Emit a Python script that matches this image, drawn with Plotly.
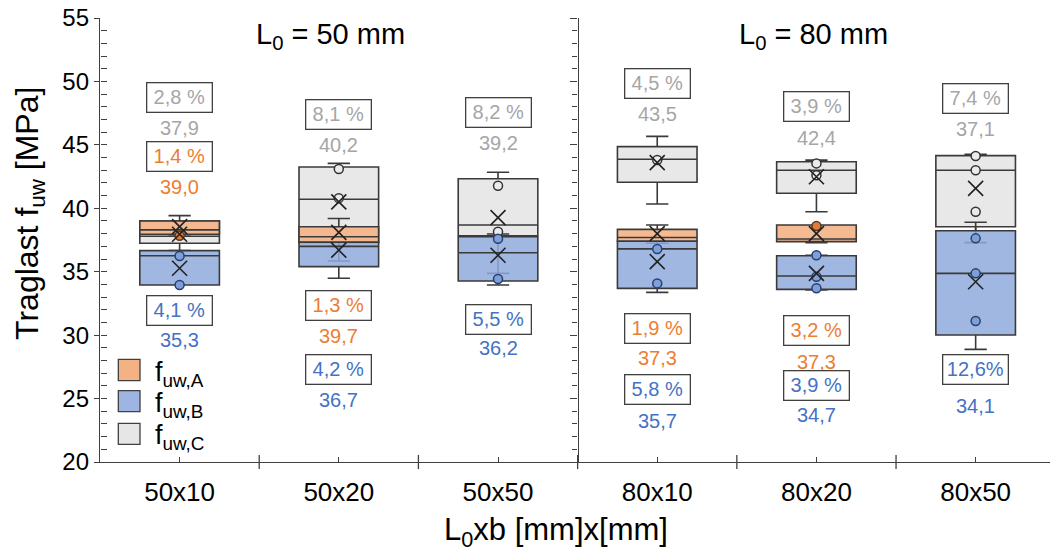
import plotly.graph_objects as go

categories = ["50x10", "50x20", "50x50", "80x10", "80x20", "80x50"]
positions = [0, 1, 2, 3, 4, 5]

# Series A (f_uw,A) - orange
a_low = [37.80, 35.84, None, 37.24, 37.29, None]
a_q1 = [37.95, 37.32, None, 37.40, 37.37, None]
a_med = [38.30, 37.76, None, 37.70, 37.58, None]
a_q3 = [39.00, 38.55, None, 38.34, 38.68, None]
a_up = [39.42, 39.20, None, 38.68, 38.68, None]
a_mean = [38.55, 38.10, None, 38.00, 38.00, None]
a_points = [[37.84], [], [], [], [38.60], []]
a_cv = ["1,4 %", "1,3 %", None, "1,9 %", "3,2 %", None]
a_mean_txt = ["39,0", "39,7", None, "37,3", "37,3", None]

# Series B (f_uw,B) - blue
b_low = [33.95, 34.48, 33.95, 33.37, 33.56, 28.88]
b_q1 = [33.95, 35.40, 34.27, 33.69, 33.61, 30.01]
b_med = [36.26, 37.00, 36.50, 36.80, 34.66, 34.87]
b_q3 = [36.66, 37.32, 37.76, 37.40, 36.26, 38.23]
b_up = [36.66, 37.32, 37.97, 37.40, 36.30, 38.90]
b_mean = [35.27, 36.70, 36.30, 35.79, 34.87, 34.21]
b_points = [[36.24, 33.95], [], [37.60, 34.42], [36.79, 34.08], [36.30, 34.60, 33.69], [37.63, 34.87, 31.11]]
b_cv = ["4,1 %", "4,2 %", "5,5 %", "5,8 %", "3,9 %", "12,6%"]
b_mean_txt = ["35,3", "36,7", "36,2", "35,7", "34,7", "34,1"]

# Series C (f_uw,C) - grey
c_low = [36.66, 37.00, 34.87, 40.34, 39.73, 37.29]
c_q1 = [37.24, 37.30, 37.84, 42.05, 41.18, 38.55]
c_med = [37.80, 40.71, 38.68, 43.86, 43.00, 43.00]
c_q3 = [39.00, 43.25, 42.33, 44.86, 43.67, 44.15]
c_up = [39.00, 43.54, 42.84, 45.67, 43.80, 44.25]
c_mean = [37.95, 40.50, 39.26, 43.60, 42.49, 41.57]
c_points = [[], [43.10, 40.80], [41.78, 38.15], [43.80], [43.54, 42.60], [44.12, 43.00, 39.73]]
c_cv = ["2,8 %", "8,1 %", "8,2 %", "4,5 %", "3,9 %", "7,4 %"]
c_mean_txt = ["37,9", "40,2", "39,2", "43,5", "42,4", "37,1"]

# label placement (layout, y in axis units)
a_cv_y = [44.12, 32.30, None, 30.56, 30.37, None]
a_txt_y = [41.70, 29.93, None, 28.22, 27.91, None]
b_cv_y = [31.98, 27.33, 31.27, 25.68, 26.07, 27.28]
b_txt_y = [29.62, 24.89, 28.99, 23.23, 23.70, 24.41]
c_cv_y = [48.73, 47.39, 47.55, 49.80, 47.99, 48.64]
c_txt_y = [46.33, 44.99, 45.17, 47.43, 45.52, 46.23]

series = [
    dict(name="C", low=c_low, q1=c_q1, med=c_med, q3=c_q3, up=c_up, mean=c_mean, pts=c_points,
         fill="rgba(231,230,230,0.92)", ptfill="rgba(235,235,235,1)", ptline="#333333",
         txtcol="#A6A6A6", cv=c_cv, mt=c_mean_txt, cvy=c_cv_y, mty=c_txt_y),
    dict(name="A", low=a_low, q1=a_q1, med=a_med, q3=a_q3, up=a_up, mean=a_mean, pts=a_points,
         fill="rgba(244,177,131,0.88)", ptfill="#E07B3A", ptline="#5A3A20",
         txtcol="#ED7D31", cv=a_cv, mt=a_mean_txt, cvy=a_cv_y, mty=a_txt_y),
    dict(name="B", low=b_low, q1=b_q1, med=b_med, q3=b_q3, up=b_up, mean=b_mean, pts=b_points,
         fill="rgba(143,170,220,0.85)", ptfill="#7E9FD9", ptline="#27406E",
         txtcol="#4472C4", cv=b_cv, mt=b_mean_txt, cvy=b_cv_y, mty=b_txt_y),
]

FONT = "Liberation Sans"
fig = go.Figure()
LINE = "#3A3A3A"

for s in series:
    idx = [i for i in positions if s["q1"][i] is not None]
    fig.add_trace(go.Box(
        x=[positions[i] for i in idx],
        q1=[s["q1"][i] for i in idx],
        median=[s["med"][i] for i in idx],
        q3=[s["q3"][i] for i in idx],
        lowerfence=[s["low"][i] for i in idx],
        upperfence=[s["up"][i] for i in idx],
        width=0.5, whiskerwidth=0.28, boxpoints=False,
        fillcolor=s["fill"], line=dict(color=LINE, width=1.6),
        showlegend=False, hoverinfo="skip",
    ))

for s in series:
    px, py = [], []
    for i in positions:
        for v in s["pts"][i]:
            px.append(positions[i]); py.append(v)
    fig.add_trace(go.Scatter(
        x=px, y=py, mode="markers", showlegend=False, hoverinfo="skip",
        marker=dict(symbol="circle", size=9, color=s["ptfill"], line=dict(color=s["ptline"], width=1.5)),
    ))

for s in series:
    idx = [i for i in positions if s["mean"][i] is not None]
    fig.add_trace(go.Scatter(
        x=[positions[i] for i in idx], y=[s["mean"][i] for i in idx],
        mode="markers", showlegend=False, hoverinfo="skip",
        marker=dict(symbol="x-thin", size=15, line=dict(color="#222222", width=1.6)),
    ))

# empty traces so that the extra tick axes get drawn
fig.add_trace(go.Scatter(x=[], y=[], yaxis="y2", showlegend=False, hoverinfo="skip"))
fig.add_trace(go.Scatter(x=[], y=[], yaxis="y3", showlegend=False, hoverinfo="skip"))

ann = []
for s in series:
    for i in positions:
        if s["cv"][i] is None:
            continue
        ann.append(dict(x=positions[i], y=s["cvy"][i], xref="x", yref="y", text=s["cv"][i],
                        showarrow=False, font=dict(size=20, color=s["txtcol"], family=FONT),
                        bordercolor="#404040", borderwidth=1.3, borderpad=2, bgcolor="white",
                        width=60, height=24))
        ann.append(dict(x=positions[i], y=s["mty"][i], xref="x", yref="y", text=s["mt"][i],
                        showarrow=False, font=dict(size=20, color=s["txtcol"], family=FONT)))

# headers
ann.append(dict(x=0.95, y=53.6, xref="x", yref="y", text="L<sub>0</sub> = 50 mm", showarrow=False,
                font=dict(size=29, color="black", family=FONT)))
ann.append(dict(x=3.98, y=53.6, xref="x", yref="y", text="L<sub>0</sub> = 80 mm", showarrow=False,
                font=dict(size=29, color="black", family=FONT)))
# axis titles
ann.append(dict(x=-0.0737, y=0.561, xref="paper", yref="paper", text="Traglast f<sub>uw</sub> [MPa]",
                textangle=-90, xanchor="center", yanchor="middle", showarrow=False,
                font=dict(size=32, color="black", family=FONT)))
ann.append(dict(x=0.48, y=-0.1577, xref="paper", yref="paper", text="L<sub>0</sub>xb [mm]x[mm]",
                xanchor="center", yanchor="middle", showarrow=False,
                font=dict(size=31, color="black", family=FONT)))

# manual legend
legend_items = [("f<sub>uw,A</sub>", "rgba(244,177,131,1)", 0.1831, 0.2313),
                ("f<sub>uw,B</sub>", "rgba(157,181,224,1)", 0.1133, 0.1606),
                ("f<sub>uw,C</sub>", "rgba(231,230,230,1)", 0.0399, 0.0872)]
shapes = []
for txt, col, y0, y1 in legend_items:
    shapes.append(dict(type="rect", xref="paper", yref="paper", x0=0.0193, x1=0.0421, y0=y0, y1=y1,
                       fillcolor=col, line=dict(color="#404040", width=1.3)))
    ann.append(dict(x=0.0558, y=(y0 + y1) / 2 - 0.008, xref="paper", yref="paper", text=txt,
                    xanchor="left", yanchor="middle", showarrow=False,
                    font=dict(size=27, color="black", family=FONT)))

# crossing ticks at category boundaries
for b in [0.5, 1.5, 2.5, 3.5, 4.5]:
    shapes.append(dict(type="line", xref="x", yref="paper", x0=b, x1=b, y0=-0.016, y1=0.016,
                       line=dict(color="#404040", width=1.3)))

mid_pos = (2.5 + 0.5) / 5.967

fig.update_layout(
    width=1050, height=553,
    margin=dict(l=100, r=0, t=18, b=91),
    paper_bgcolor="white", plot_bgcolor="white",
    boxmode="overlay",
    annotations=ann, shapes=shapes,
    font=dict(family=FONT, color="black"),
    xaxis=dict(range=[-0.5, 5.467], tickmode="array", tickvals=positions, ticktext=categories,
               ticks="inside", ticklen=5, tickcolor="#404040", tickwidth=1.3,
               showline=True, linecolor="#404040", linewidth=1.3, showgrid=False, zeroline=False,
               tickfont=dict(size=26, color="black"), ticklabelstandoff=7),
    yaxis=dict(range=[20, 55], dtick=5, tick0=20, ticks="outside", ticklen=5, tickcolor="#404040", tickwidth=1.3,
               showline=True, linecolor="#404040", linewidth=1.3, showgrid=False, zeroline=False,
               tickfont=dict(size=24, color="black")),
    yaxis2=dict(range=[20, 55], overlaying="y", anchor="free", position=0, dtick=1, tick0=20,
                ticks="inside", ticklen=6, tickcolor="#404040", tickwidth=1.3, showline=False,
                showticklabels=False, showgrid=False, zeroline=False),
    yaxis3=dict(range=[20, 55], overlaying="y", anchor="free", position=mid_pos, dtick=5, tick0=20,
                ticks="outside", ticklen=7, tickcolor="#404040", tickwidth=1.3, showline=True,
                linecolor="#404040", linewidth=1.3,
                minor=dict(dtick=1, tick0=20, ticks="outside", ticklen=5, tickcolor="#404040", tickwidth=1.3),
                showticklabels=False, showgrid=False, zeroline=False),
)

fig.write_html("out.html", post_script="document.body.style.margin='0';",
               config={"displayModeBar": False})
